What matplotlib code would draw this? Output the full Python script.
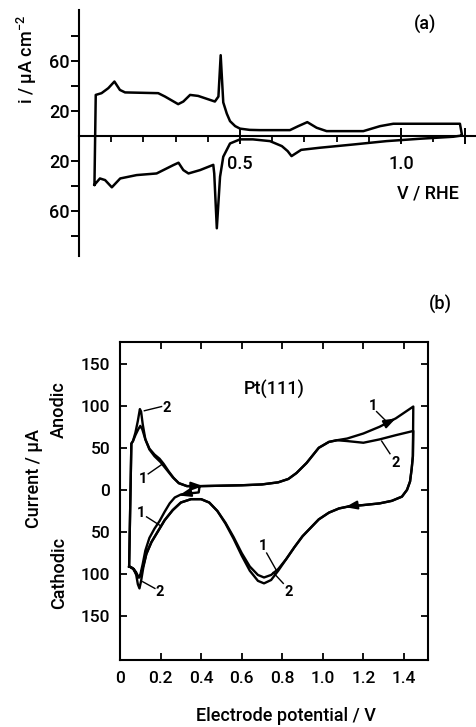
import numpy as np
import matplotlib.pyplot as plt
from matplotlib.ticker import FuncFormatter, FixedLocator

plt.rcParams['font.family'] = ['Roboto', 'DejaVu Sans']
plt.rcParams['font.weight'] = 'medium'
plt.rcParams['mathtext.fontset'] = 'custom'
plt.rcParams['mathtext.rm'] = 'Roboto:medium'
plt.rcParams['mathtext.it'] = 'Roboto:italic'

# ---- panel (a): V / RHE vs i / uA cm-2 ----
a_anod_v = [0.048, 0.052, 0.070, 0.091, 0.110, 0.127, 0.143, 0.246, 0.267, 0.308, 0.324, 0.345,
            0.370, 0.422, 0.433, 0.440, 0.448, 0.459, 0.469, 0.485, 0.500, 0.530, 0.562, 0.655,
            0.681, 0.709, 0.738, 0.769, 0.883, 0.935, 0.976, 1.183, 1.189]
a_anod_i = [-39, 33, 34.4, 38.4, 43.7, 37, 35, 34.4, 31.7, 25.6, 27.7, 33,
            32.2, 27.7, 31.7, 64.8, 27, 18, 12, 8, 6, 5, 4.8, 4.8,
            8, 11.2, 6.7, 4, 4, 8, 9.9, 9.9, 1.4]
a_cath_v = [1.189, 1.162, 1.059, 0.955, 0.852, 0.748, 0.690, 0.672, 0.660, 0.648, 0.630, 0.593,
            0.540, 0.500, 0.469, 0.448, 0.438, 0.428, 0.420, 0.417, 0.376, 0.340, 0.324, 0.309,
            0.293, 0.241, 0.179, 0.128, 0.102, 0.081, 0.065, 0.048]
a_cath_i = [0.5, -0.5, -2.1, -4, -6.7, -9.3, -11, -14, -16, -12, -8, -4,
            -2.6, -2.6, -5.9, -16.5, -32.6, -73.8, -30, -23, -27.2, -29.9, -27.2, -21.3,
            -23.2, -29.9, -31.2, -33.9, -41, -35.2, -33.9, -39]

# ---- panel (b): Pt(111), cycles 1 and 2 ----
b2_anod_v = [0.045, 0.056, 0.064, 0.076, 0.088, 0.098, 0.104, 0.112, 0.125, 0.145,
             0.170, 0.200, 0.230, 0.260, 0.290, 0.330, 0.400, 0.500, 0.600, 0.700,
             0.780, 0.830, 0.870, 0.920, 0.980, 1.030, 1.070, 1.120, 1.200, 1.280,
             1.360, 1.446]
b2_anod_i = [-91, 55, 58, 68, 82, 96, 93, 78, 60, 48,
             40, 33, 24, 15, 8, 4.5, 4.5, 5, 5.5, 6.5,
             9, 13, 20, 32, 50, 57, 59, 58, 56, 60,
             65, 70]
b1_anod_v = [0.045, 0.056, 0.064, 0.076, 0.090, 0.100, 0.110, 0.125, 0.145, 0.170,
             0.195, 0.215, 0.240, 0.265, 0.290, 0.330, 0.400, 0.500, 0.600, 0.700,
             0.780, 0.830, 0.870, 0.920, 0.980, 1.030, 1.070, 1.120, 1.200, 1.280,
             1.360, 1.446]
b1_anod_i = [-91, 55, 58, 65, 72, 76, 72, 60, 49, 42,
             37, 31, 22, 14, 8, 4.5, 4.5, 5, 5.5, 6.5,
             9, 13, 20, 32, 50, 57, 59, 61, 67, 75,
             85, 99]
cath_v = [1.446, 1.444, 1.438, 1.430, 1.415, 1.390, 1.340, 1.280, 1.200, 1.130,
          1.080, 1.030, 0.980, 0.940, 0.900, 0.860, 0.820, 0.780, 0.745, 0.710,
          0.680, 0.640, 0.600, 0.560, 0.520, 0.480, 0.440, 0.400, 0.350, 0.300,
          0.260, 0.220, 0.185, 0.155, 0.130, 0.115, 0.104, 0.096, 0.088, 0.080,
          0.068, 0.055, 0.045]
b2_cath_i = [70, 40, 25, 10, 0, -8, -13, -16, -18, -19.5,
             -22, -27, -35, -45, -55, -68, -82, -96, -107, -111,
             -108, -96, -78, -58, -40, -25, -15, -11, -11, -15,
             -24, -36, -50, -62, -76, -92, -108, -117, -112, -101,
             -94, -92, -91]
b1_cath_i = [99, 40, 25, 10, 0, -8, -13, -16, -18, -19.5,
             -22, -27, -35, -45, -55, -68, -82, -94, -101, -104,
             -101, -91, -75, -56, -39, -25, -15, -11, -11, -15,
             -24, -36, -50, -62, -76, -90, -100, -104, -102, -98,
             -94, -92, -91]
# first cathodic sweep of cycle 1, starting at 0.39 V
b1_start_v = [0.392, 0.388, 0.350, 0.300, 0.270, 0.245, 0.220, 0.195, 0.170, 0.145,
              0.125, 0.112, 0.100, 0.090, 0.078, 0.065, 0.055, 0.045]
b1_start_i = [4, -3, -4, -5.5, -9, -16, -26, -37, -46, -57,
              -72, -88, -101, -104, -99, -94, -92, -91]

W, H = 477, 727
fig = plt.figure(figsize=(W / 100, H / 100), dpi=100)
absfmt = FuncFormatter(lambda v, p: f'{abs(v):.0f}')


def fpos(x, y):
    return x / W, 1 - y / H


# panel (a)
axa = fig.add_axes([79 / W, 1 - 256 / H, (W - 79) / W, 246 / H])
axa.plot(a_anod_v + a_cath_v, a_anod_i + a_cath_i, color='black', lw=1.8,
         solid_joinstyle='round')
axa.set_xlim(0, 1.236)
axa.set_ylim(-96, 101)
for s in ['top', 'right']:
    axa.spines[s].set_visible(False)
axa.spines['bottom'].set_position(('data', 0))
for s in ['left', 'bottom']:
    axa.spines[s].set_linewidth(1.5)
axa.yaxis.set_major_locator(FixedLocator([-60, -20, 20, 60]))
axa.yaxis.set_minor_locator(FixedLocator([-80, -40, 40, 80]))
axa.yaxis.set_major_formatter(absfmt)
axa.tick_params(axis='y', which='both', direction='out', length=5.5, width=1.4,
                labelsize=13, pad=1.5)
axa.xaxis.set_major_locator(FixedLocator([0.5, 1.0, 1.2]))
axa.xaxis.set_major_formatter(FuncFormatter(lambda v, p: '' if v > 1.1 else f'{v:.1f}'))
axa.xaxis.set_minor_locator(FixedLocator([0.1, 0.2, 0.3, 0.4, 0.6, 0.7, 0.8, 0.9, 1.1]))
axa.tick_params(axis='x', which='major', direction='inout', length=11, width=1.4,
                labelsize=13, pad=8)
axa.tick_params(axis='x', which='minor', direction='out', length=4.5, width=1.3)

fig.text(*fpos(425, 25), '(a)', fontsize=13, ha='center', va='center')
fig.text(*fpos(428, 193), 'V / RHE', fontsize=13, ha='center', va='center')
fig.text(*fpos(27, 60), 'i / µA cm$^{-2}$', fontsize=13, rotation=90,
         ha='center', va='center')

# panel (b)
axb = fig.add_axes([120 / W, 1 - 660 / H, 308.3 / W, 318.3 / H])
axb.plot(b1_start_v + b1_anod_v + cath_v, b1_start_i + b1_anod_i + b1_cath_i,
         color='black', lw=1.7, solid_joinstyle='round')
axb.plot(b2_anod_v + cath_v, b2_anod_i + b2_cath_i, color='black', lw=1.7,
         solid_joinstyle='round')
axb.set_xlim(0, 1.52)
axb.set_ylim(-202, 176)
for s in axb.spines.values():
    s.set_linewidth(1.5)
axb.set_xticks([0, 0.2, 0.4, 0.6, 0.8, 1.0, 1.2, 1.4])
axb.xaxis.set_major_formatter(FuncFormatter(lambda v, p: '0' if v == 0 else f'{v:.1f}'))
axb.set_yticks([-150, -100, -50, 0, 50, 100, 150])
axb.yaxis.set_major_formatter(absfmt)
axb.tick_params(which='both', direction='in', length=5, width=1.3, top=True, right=True,
                labelsize=12.5)
axb.tick_params(axis='x', pad=8)
axb.tick_params(axis='y', pad=7)


def arrow_at(ax, vs, cs, v, dv):
    # filled arrow head sitting on the curve, pointing in sweep direction
    order = np.argsort(vs)
    xv = np.asarray(vs)[order]
    yv = np.asarray(cs)[order]
    y0 = np.interp(v - dv, xv, yv)
    y1 = np.interp(v, xv, yv)
    ax.annotate('', xy=(v, y1), xytext=(v - dv, y0),
                arrowprops=dict(arrowstyle='-|>,head_length=0.7,head_width=0.25',
                                color='black', lw=1.5, shrinkA=0, shrinkB=0))


arrow_at(axb, b2_anod_v, b2_anod_i, 0.41, 0.03)
arrow_at(axb, b1_anod_v, b1_anod_i, 1.36, 0.03)
arrow_at(axb, cath_v, b2_cath_i, 1.11, -0.03)
arrow_at(axb, b1_start_v, b1_start_i, 0.29, -0.03)

num_labels = [
    ('2', (0.232, 97), (0.205, 99), (0.120, 94)),
    ('1', (0.112, 13), (0.139, 19), (0.205, 30)),
    ('1', (0.104, -28), (0.131, -32), (0.196, -42)),
    ('2', (0.198, -121), (0.172, -117), (0.112, -109)),
    ('1', (1.249, 100), (1.265, 93), (1.315, 81)),
    ('2', (1.358, 32), (1.331, 43), (1.290, 58)),
    ('1', (0.706, -67), (0.723, -75), (0.772, -96)),
    ('2', (0.830, -121), (0.805, -111), (0.755, -98)),
]
for txt, tpos, p0, p1 in num_labels:
    axb.text(*tpos, txt, fontsize=10.5, fontweight='bold', ha='center', va='center')
    axb.plot([p0[0], p1[0]], [p0[1], p1[1]], color='black', lw=1.0)

axb.text(0.76, 119, 'Pt(111)', fontsize=13, ha='center', va='center')

fig.text(*fpos(440, 305), '(b)', fontsize=13, ha='center', va='center')
fig.text(*fpos(286, 716), 'Electrode potential / V', fontsize=13, ha='center', va='center')
fig.text(*fpos(34, 478), 'Current / µA', fontsize=13, rotation=90, ha='center', va='center')
fig.text(*fpos(59, 410), 'Anodic', fontsize=13, rotation=90, ha='center', va='center')
fig.text(*fpos(59, 573), 'Cathodic', fontsize=13, rotation=90, ha='center', va='center')

fig.savefig('out.png', dpi=100)
